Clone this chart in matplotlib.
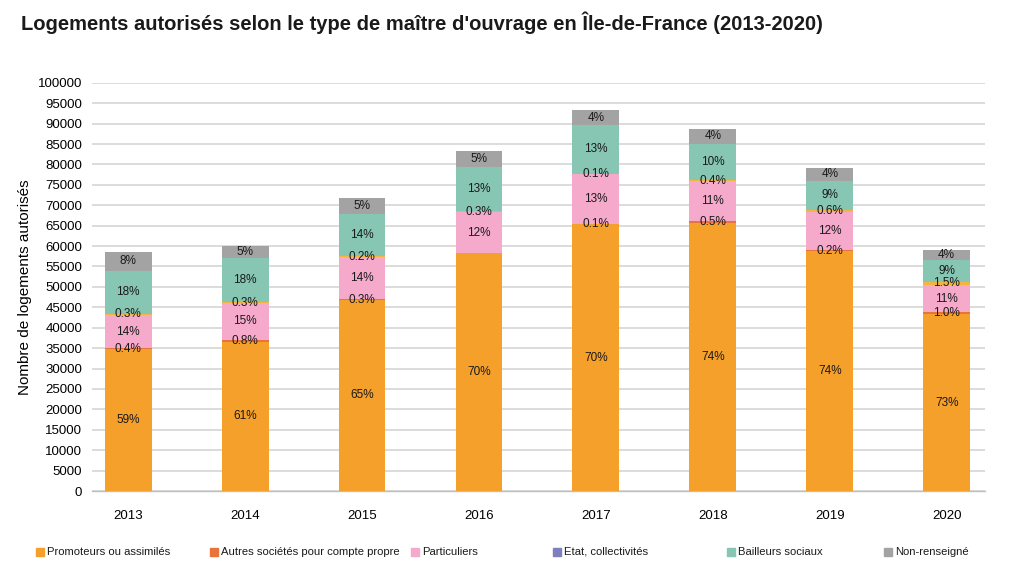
import matplotlib
matplotlib.use("Agg")
import matplotlib.pyplot as plt
from matplotlib.patches import Rectangle
import numpy as np

plt.rcParams['font.family'] = ['Liberation Sans', 'DejaVu Sans']

years = ["2013", "2014", "2015", "2016", "2017", "2018", "2019", "2020"]
promoteurs = [34700, 36600, 46800, 58300, 65400, 65600, 58800, 43300]
autres = [235, 480, 215, 0, 90, 440, 160, 590]
particuliers = [8230, 9000, 10300, 10000, 12100, 9800, 9500, 6500]
etat = [176, 180, 144, 250, 90, 355, 480, 890]
bailleurs = [10580, 10800, 10300, 10800, 12000, 8900, 7100, 5300]
non_renseigne = [4700, 3000, 3900, 3950, 3600, 3500, 3200, 2400]

series_names = ["Promoteurs ou assimilés", "Autres sociétés pour compte propre", "Particuliers",
                "Etat, collectivités", "Bailleurs sociaux", "Non-renseigné"]
series = [promoteurs, autres, particuliers, etat, bailleurs, non_renseigne]
bar_colors = ["#F5A02A", "#E9743A", "#F5A9CB", "#F2B640", "#86C6B2", "#A3A3A3"]
legend_colors = ["#F5A02A", "#E9743A", "#F5A9CB", "#7D7FBF", "#86C6B2", "#A3A3A3"]

fig = plt.figure(figsize=(10.22, 5.67), dpi=100)
ax = fig.add_axes([0.090, 0.134, 0.874, 0.720])

x = np.arange(len(years))
totals = np.sum(np.array(series, dtype=float), axis=0)
bottom = np.zeros(len(years))
for vals, col in zip(series, bar_colors):
    v = np.array(vals, dtype=float)
    ax.bar(x, v, width=0.40, bottom=bottom, color=col, zorder=3, linewidth=0)
    for i in range(len(years)):
        if v[i] <= 0:
            continue
        pct = v[i] / totals[i] * 100
        lab = f"{pct:.1f}%" if pct < 2 else f"{pct:.0f}%"
        ax.text(x[i], bottom[i] + v[i] / 2, lab, ha='center', va='center',
                fontsize=8.5, color='#1a1a1a', zorder=4)
    bottom += v

ax.set_xlim(-0.31, 7.33)
ax.set_ylim(0, 100000)
ax.set_yticks(np.arange(0, 100001, 5000))
ax.set_yticklabels([str(t) for t in range(0, 100001, 5000)], fontsize=9.5)
ax.set_xticks(x)
ax.set_xticklabels(years, fontsize=9.5)
ax.tick_params(axis='y', length=0, pad=7)
ax.tick_params(axis='x', length=0, pad=14)
ax.grid(axis='y', color='#D9D9D9', linewidth=1.3, zorder=0)
for s in ['top', 'right', 'left']:
    ax.spines[s].set_visible(False)
ax.spines['bottom'].set_color('#BFBFBF')
ax.spines['bottom'].set_linewidth(1.0)
ax.set_ylabel("Nombre de logements autorisés", fontsize=11, labelpad=4)

fig.text(0.021, 0.960, "Logements autorisés selon le type de maître d'ouvrage en Île-de-France (2013-2020)",
         fontsize=14.5, fontweight='bold', ha='left', va='center', color='#1a1a1a')

# legend
leg_x = [36, 210, 411, 553, 727, 884]
for xp, name, col in zip(leg_x, series_names, legend_colors):
    fig.patches.append(Rectangle((xp / 1022, 1 - 556 / 567), 8 / 1022, 8 / 567,
                                 transform=fig.transFigure, color=col, figure=fig))
    fig.text((xp + 11) / 1022, 1 - 552 / 567, name, fontsize=8.1, ha='left', va='center',
             color='#1a1a1a')

fig.savefig("out.png", dpi=100)
